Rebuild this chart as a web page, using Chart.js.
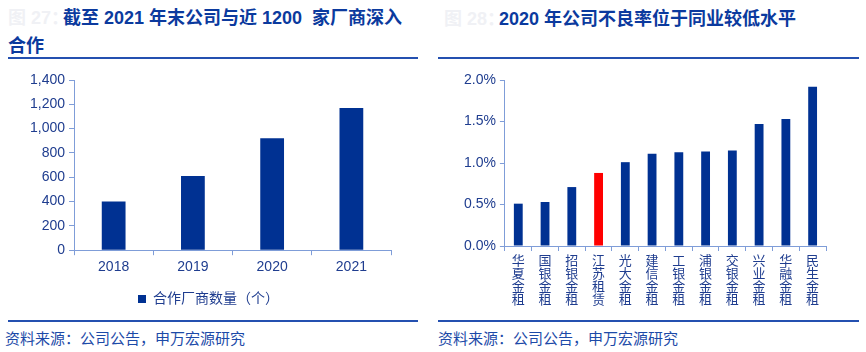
<!DOCTYPE html>
<html>
<head>
<meta charset="utf-8">
<script src="https://cdn.jsdelivr.net/npm/chart.js@4"></script>
<style>
  body { margin: 0; width: 866px; height: 352px; background: #fff; position: relative; overflow: hidden;
    font-family: "Liberation Sans", "Noto Sans CJK SC", Arial, sans-serif; }
  .title { position: absolute; font-weight: bold; font-size: 18px; color: #0b3a9e; line-height: 28px; white-space: nowrap; }
  .fig { color: #f0f1f5; display: inline-block; width: 55px; overflow: hidden; white-space: nowrap; vertical-align: top; }
  .rule { position: absolute; height: 2px; background: #2450b0; }
  .src { position: absolute; font-size: 15px; color: #1c4aa8; }
  .box { position: absolute; }
</style>
</head>
<body>
<div class="title" style="left:8px; top:4px; width:420px;"><span class="fig">图 27：</span>截至 2021 年末公司与近 1200&nbsp; 家厂商深入<br>合作</div>
<div class="title" style="left:444px; top:5px;"><span class="fig">图 28：</span>2020 年公司不良率位于同业较低水平</div>
<div class="rule" style="left:8px; top:57px; width:410px;"></div>
<div class="rule" style="left:438px; top:57px; width:421px;"></div>

<div class="box" style="left:0; top:62px; width:425px; height:257px;"><canvas id="vendorChart"></canvas></div>
<div class="box" style="left:436px; top:62px; width:430px; height:253px;"><canvas id="nplChart"></canvas></div>

<div class="rule" style="left:8px; top:320px; width:410px;"></div>
<div class="rule" style="left:438px; top:320px; width:421px;"></div>
<div class="src" style="left:5px; top:327px;">资料来源：公司公告，申万宏源研究</div>
<div class="src" style="left:438px; top:327px;">资料来源：公司公告，申万宏源研究</div>

<script>
const years = ["2018", "2019", "2020", "2021"];
const vendorCounts = [400, 610, 920, 1170];
const vendorTicks = [0, 200, 400, 600, 800, 1000, 1200, 1400];

const lessors = ["华夏金租", "国银金租", "招银金租", "江苏租赁", "光大金租", "建信金租",
  "工银金租", "浦银金租", "交银金租", "兴业金租", "华融金租", "民生金租"];
const nplRates = [0.51, 0.53, 0.71, 0.88, 1.01, 1.11, 1.13, 1.14, 1.15, 1.47, 1.53, 1.92];
const nplTicks = [0, 0.5, 1.0, 1.5, 2.0];

const NAVY = "#003192";
const RED = "#ff0000";
const AXIS = "#7f9dd8";
const TICK_TEXT = "#1f3d8f";
const FONT = "'Liberation Sans', 'Noto Sans CJK SC', Arial, sans-serif";

function axisStyle() {
  return {
    border: { display: true, color: AXIS, width: 1 },
    grid: { drawOnChartArea: false, drawTicks: true, tickLength: 5, color: AXIS },
    ticks: { color: TICK_TEXT, font: { family: FONT, size: 14 } },
  };
}

function createVendorChart() {
  const ctx = document.getElementById("vendorChart");
  const x = axisStyle();
  const y = axisStyle();
  return new Chart(ctx, {
    type: "bar",
    data: {
      labels: years,
      datasets: [
        {
          label: "合作厂商数量（个）",
          data: vendorCounts,
          backgroundColor: NAVY,
          categoryPercentage: 1,
          barPercentage: 0.3,
        },
      ],
    },
    options: {
      responsive: true,
      maintainAspectRatio: false,
      animation: false,
      layout: { padding: { left: 26, right: 34, top: 18, bottom: 3 } },
      plugins: {
        legend: {
          position: "bottom",
          labels: {
            boxWidth: 8, boxHeight: 8, color: "#1f3d8f",
            font: { family: FONT, size: 14 }, padding: 12,
          },
        },
        tooltip: { enabled: false },
      },
      scales: {
        x: { ...x, ticks: { ...x.ticks, padding: 4 } },
        y: {
          ...y,
          min: 0,
          max: 1400,
          afterBuildTicks: (axis) => { axis.ticks = vendorTicks.map((v) => ({ value: v })); },
          ticks: { ...y.ticks, padding: 4, callback: (v) => v.toLocaleString("en-US") },
        },
      },
    },
  });
}

function createNplChart() {
  const ctx = document.getElementById("nplChart");
  const x = axisStyle();
  const y = axisStyle();
  return new Chart(ctx, {
    type: "bar",
    data: {
      labels: lessors.map((n) => n.split("")),
      datasets: [
        {
          label: "不良率",
          data: nplRates,
          backgroundColor: lessors.map((n) => (n === "江苏租赁" ? RED : NAVY)),
          categoryPercentage: 1,
          barPercentage: 0.33,
        },
      ],
    },
    options: {
      responsive: true,
      maintainAspectRatio: false,
      animation: false,
      layout: { padding: { left: 24, right: 40, top: 18, bottom: 4 } },
      plugins: {
        legend: { display: false },
        tooltip: { enabled: false },
      },
      scales: {
        x: {
          ...x,
          ticks: {
            ...x.ticks, padding: 4, maxRotation: 0, minRotation: 0, autoSkip: false,
            font: { family: FONT, size: 13, lineHeight: 1.0 },
          },
        },
        y: {
          ...y,
          min: 0,
          max: 2.0,
          afterBuildTicks: (axis) => { axis.ticks = nplTicks.map((v) => ({ value: v })); },
          ticks: { ...y.ticks, padding: 4, callback: (v) => v.toFixed(1) + "%" },
        },
      },
    },
  });
}

createVendorChart();
createNplChart();
</script>
</body>
</html>
